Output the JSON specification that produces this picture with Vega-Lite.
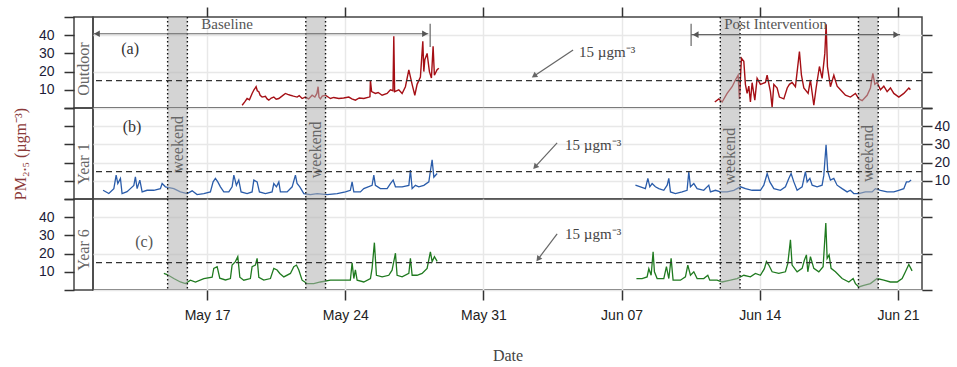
{
  "$schema": "https://vega.github.io/schema/vega-lite/v6.json",
  "background": "white",
  "padding": {"left": 11, "top": 5, "right": 5, "bottom": 5},
  "columns": 2,
  "spacing": 0,
  "bounds": "flush",
  "config": {
    "view": {"stroke": "#444", "strokeWidth": 1.5},
    "axis": {
      "labelFont": "Liberation Sans", "labelFontSize": 14, "labelColor": "#1c1c38", "labelOverlap": false,
      "tickColor": "#333", "tickWidth": 1.5, "tickSize": 10,
      "gridColor": "#e8e8e8", "gridWidth": 1.5, "domain": false,
      "titleFont": "Liberation Serif", "titleFontWeight": "normal"
    },
    "axisQuantitative": {"labelOverlap": false},
    "axisRight": {"labelOverlap": false}
  },
  "datasets": {
    "pm": [
      {"p":"Outdoor","s":"b","t":"2021-05-18 18:36","v":1.5},
      {"p":"Outdoor","s":"b","t":"2021-05-18 22:00","v":3.5},
      {"p":"Outdoor","s":"b","t":"2021-05-19 00:38","v":5.2},
      {"p":"Outdoor","s":"b","t":"2021-05-19 03:30","v":4.5},
      {"p":"Outdoor","s":"b","t":"2021-05-19 06:43","v":8},
      {"p":"Outdoor","s":"b","t":"2021-05-19 09:00","v":10},
      {"p":"Outdoor","s":"b","t":"2021-05-19 11:35","v":11.7},
      {"p":"Outdoor","s":"b","t":"2021-05-19 13:00","v":9.5},
      {"p":"Outdoor","s":"b","t":"2021-05-19 14:52","v":8.9},
      {"p":"Outdoor","s":"b","t":"2021-05-19 16:30","v":7},
      {"p":"Outdoor","s":"b","t":"2021-05-19 18:53","v":6},
      {"p":"Outdoor","s":"b","t":"2021-05-19 22:53","v":6.4},
      {"p":"Outdoor","s":"b","t":"2021-05-20 01:00","v":5},
      {"p":"Outdoor","s":"b","t":"2021-05-20 03:01","v":4.3},
      {"p":"Outdoor","s":"b","t":"2021-05-20 06:00","v":5.5},
      {"p":"Outdoor","s":"b","t":"2021-05-20 09:06","v":6},
      {"p":"Outdoor","s":"b","t":"2021-05-20 12:00","v":4.8},
      {"p":"Outdoor","s":"b","t":"2021-05-20 15:11","v":5.2},
      {"p":"Outdoor","s":"b","t":"2021-05-20 19:00","v":6.5},
      {"p":"Outdoor","s":"b","t":"2021-05-20 23:12","v":8},
      {"p":"Outdoor","s":"b","t":"2021-05-21 02:00","v":7.5},
      {"p":"Outdoor","s":"b","t":"2021-05-21 05:17","v":7},
      {"p":"Outdoor","s":"b","t":"2021-05-21 09:00","v":6.5},
      {"p":"Outdoor","s":"b","t":"2021-05-21 13:26","v":6},
      {"p":"Outdoor","s":"b","t":"2021-05-21 16:00","v":6.8},
      {"p":"Outdoor","s":"b","t":"2021-05-21 19:31","v":5.2},
      {"p":"Outdoor","s":"b","t":"2021-05-21 23:32","v":6},
      {"p":"Outdoor","s":"b","t":"2021-05-22 03:30","v":5},
      {"p":"Outdoor","s":"b","t":"2021-05-22 07:40","v":7},
      {"p":"Outdoor","s":"b","t":"2021-05-22 11:00","v":6},
      {"p":"Outdoor","s":"b","t":"2021-05-22 13:30","v":8},
      {"p":"Outdoor","s":"b","t":"2021-05-22 14:58","v":11.7},
      {"p":"Outdoor","s":"b","t":"2021-05-22 16:00","v":6},
      {"p":"Outdoor","s":"b","t":"2021-05-22 17:46","v":5},
      {"p":"Outdoor","s":"b","t":"2021-05-22 20:00","v":6.5},
      {"p":"Outdoor","s":"b","t":"2021-05-22 23:50","v":7},
      {"p":"Outdoor","s":"b","t":"2021-05-23 05:55","v":5.2},
      {"p":"Outdoor","s":"b","t":"2021-05-23 10:00","v":5.8},
      {"p":"Outdoor","s":"b","t":"2021-05-23 16:08","v":5.2},
      {"p":"Outdoor","s":"b","t":"2021-05-23 22:00","v":5.5},
      {"p":"Outdoor","s":"b","t":"2021-05-24 04:18","v":6},
      {"p":"Outdoor","s":"b","t":"2021-05-24 08:00","v":5},
      {"p":"Outdoor","s":"b","t":"2021-05-24 12:19","v":4.3},
      {"p":"Outdoor","s":"b","t":"2021-05-24 17:00","v":5.5},
      {"p":"Outdoor","s":"b","t":"2021-05-24 22:32","v":5.2},
      {"p":"Outdoor","s":"b","t":"2021-05-25 04:37","v":6},
      {"p":"Outdoor","s":"b","t":"2021-05-25 06:00","v":6.2},
      {"p":"Outdoor","s":"b","t":"2021-05-25 06:34","v":15.4},
      {"p":"Outdoor","s":"b","t":"2021-05-25 08:00","v":9},
      {"p":"Outdoor","s":"b","t":"2021-05-25 12:39","v":8},
      {"p":"Outdoor","s":"b","t":"2021-05-25 16:00","v":8.5},
      {"p":"Outdoor","s":"b","t":"2021-05-25 20:47","v":7},
      {"p":"Outdoor","s":"b","t":"2021-05-26 02:52","v":8},
      {"p":"Outdoor","s":"b","t":"2021-05-26 06:53","v":10},
      {"p":"Outdoor","s":"b","t":"2021-05-26 10:00","v":9.5},
      {"p":"Outdoor","s":"b","t":"2021-05-26 11:00","v":39.4},
      {"p":"Outdoor","s":"b","t":"2021-05-26 12:00","v":9},
      {"p":"Outdoor","s":"b","t":"2021-05-26 17:05","v":10},
      {"p":"Outdoor","s":"b","t":"2021-05-26 21:06","v":8},
      {"p":"Outdoor","s":"b","t":"2021-05-27 01:07","v":11.7},
      {"p":"Outdoor","s":"b","t":"2021-05-27 05:15","v":21},
      {"p":"Outdoor","s":"b","t":"2021-05-27 09:16","v":13},
      {"p":"Outdoor","s":"b","t":"2021-05-27 12:33","v":7},
      {"p":"Outdoor","s":"b","t":"2021-05-27 15:20","v":13},
      {"p":"Outdoor","s":"b","t":"2021-05-27 19:21","v":17},
      {"p":"Outdoor","s":"b","t":"2021-05-27 22:17","v":36.7},
      {"p":"Outdoor","s":"b","t":"2021-05-27 23:30","v":20},
      {"p":"Outdoor","s":"b","t":"2021-05-28 00:43","v":26.5},
      {"p":"Outdoor","s":"b","t":"2021-05-28 03:30","v":30},
      {"p":"Outdoor","s":"b","t":"2021-05-28 06:18","v":20},
      {"p":"Outdoor","s":"b","t":"2021-05-28 08:44","v":16.5},
      {"p":"Outdoor","s":"b","t":"2021-05-28 10:47","v":33.9},
      {"p":"Outdoor","s":"b","t":"2021-05-28 12:22","v":18},
      {"p":"Outdoor","s":"b","t":"2021-05-28 15:39","v":21},
      {"p":"Outdoor","s":"b","t":"2021-05-28 17:43","v":21.9},
      {"p":"Outdoor","s":"p","t":"2021-06-11 17:18","v":3.3},
      {"p":"Outdoor","s":"p","t":"2021-06-11 22:10","v":5},
      {"p":"Outdoor","s":"p","t":"2021-06-12 02:13","v":3.3},
      {"p":"Outdoor","s":"p","t":"2021-06-12 08:18","v":8},
      {"p":"Outdoor","s":"p","t":"2021-06-12 14:22","v":11.7},
      {"p":"Outdoor","s":"p","t":"2021-06-12 18:23","v":15.4},
      {"p":"Outdoor","s":"p","t":"2021-06-12 21:40","v":18},
      {"p":"Outdoor","s":"p","t":"2021-06-12 23:15","v":5},
      {"p":"Outdoor","s":"p","t":"2021-06-13 01:40","v":27.4},
      {"p":"Outdoor","s":"p","t":"2021-06-13 04:35","v":25.7},
      {"p":"Outdoor","s":"p","t":"2021-06-13 06:32","v":13},
      {"p":"Outdoor","s":"p","t":"2021-06-13 08:36","v":8},
      {"p":"Outdoor","s":"p","t":"2021-06-13 10:40","v":12},
      {"p":"Outdoor","s":"p","t":"2021-06-13 12:37","v":3.3},
      {"p":"Outdoor","s":"p","t":"2021-06-13 14:41","v":13.9},
      {"p":"Outdoor","s":"p","t":"2021-06-13 17:58","v":4.3},
      {"p":"Outdoor","s":"p","t":"2021-06-13 20:46","v":16.3},
      {"p":"Outdoor","s":"p","t":"2021-06-14 00:47","v":13},
      {"p":"Outdoor","s":"p","t":"2021-06-14 06:52","v":14},
      {"p":"Outdoor","s":"p","t":"2021-06-14 08:56","v":18},
      {"p":"Outdoor","s":"p","t":"2021-06-14 12:57","v":9},
      {"p":"Outdoor","s":"p","t":"2021-06-14 15:01","v":0.5},
      {"p":"Outdoor","s":"p","t":"2021-06-14 17:05","v":13},
      {"p":"Outdoor","s":"p","t":"2021-06-14 21:06","v":11},
      {"p":"Outdoor","s":"p","t":"2021-06-14 23:54","v":6},
      {"p":"Outdoor","s":"p","t":"2021-06-15 05:15","v":5},
      {"p":"Outdoor","s":"p","t":"2021-06-15 09:22","v":11},
      {"p":"Outdoor","s":"p","t":"2021-06-15 12:03","v":13},
      {"p":"Outdoor","s":"p","t":"2021-06-15 15:20","v":14},
      {"p":"Outdoor","s":"p","t":"2021-06-15 19:21","v":11.7},
      {"p":"Outdoor","s":"p","t":"2021-06-16 00:13","v":31},
      {"p":"Outdoor","s":"p","t":"2021-06-16 02:39","v":18},
      {"p":"Outdoor","s":"p","t":"2021-06-16 05:34","v":11},
      {"p":"Outdoor","s":"p","t":"2021-06-16 10:48","v":8},
      {"p":"Outdoor","s":"p","t":"2021-06-16 13:35","v":15.4},
      {"p":"Outdoor","s":"p","t":"2021-06-16 17:43","v":1.5},
      {"p":"Outdoor","s":"p","t":"2021-06-16 20:31","v":11},
      {"p":"Outdoor","s":"p","t":"2021-06-17 00:32","v":22.8},
      {"p":"Outdoor","s":"p","t":"2021-06-17 03:49","v":16.3},
      {"p":"Outdoor","s":"p","t":"2021-06-17 07:06","v":30},
      {"p":"Outdoor","s":"p","t":"2021-06-17 08:41","v":46},
      {"p":"Outdoor","s":"p","t":"2021-06-17 10:16","v":22.8},
      {"p":"Outdoor","s":"p","t":"2021-06-17 13:55","v":11.7},
      {"p":"Outdoor","s":"p","t":"2021-06-17 18:03","v":18},
      {"p":"Outdoor","s":"p","t":"2021-06-17 22:04","v":12},
      {"p":"Outdoor","s":"p","t":"2021-06-18 02:05","v":10},
      {"p":"Outdoor","s":"p","t":"2021-06-18 08:10","v":7},
      {"p":"Outdoor","s":"p","t":"2021-06-18 14:14","v":6},
      {"p":"Outdoor","s":"p","t":"2021-06-18 20:19","v":8},
      {"p":"Outdoor","s":"p","t":"2021-06-19 00:27","v":5},
      {"p":"Outdoor","s":"p","t":"2021-06-19 04:28","v":4},
      {"p":"Outdoor","s":"p","t":"2021-06-19 10:32","v":7},
      {"p":"Outdoor","s":"p","t":"2021-06-19 14:33","v":11},
      {"p":"Outdoor","s":"p","t":"2021-06-19 17:28","v":19},
      {"p":"Outdoor","s":"p","t":"2021-06-19 19:54","v":13},
      {"p":"Outdoor","s":"p","t":"2021-06-19 22:41","v":14},
      {"p":"Outdoor","s":"p","t":"2021-06-20 02:42","v":10},
      {"p":"Outdoor","s":"p","t":"2021-06-20 06:50","v":12},
      {"p":"Outdoor","s":"p","t":"2021-06-20 10:51","v":9},
      {"p":"Outdoor","s":"p","t":"2021-06-20 14:52","v":11},
      {"p":"Outdoor","s":"p","t":"2021-06-20 18:59","v":8},
      {"p":"Outdoor","s":"p","t":"2021-06-21 01:04","v":6},
      {"p":"Outdoor","s":"p","t":"2021-06-21 07:09","v":8},
      {"p":"Outdoor","s":"p","t":"2021-06-21 13:14","v":11},
      {"p":"Outdoor","s":"p","t":"2021-06-21 15:10","v":10},
      {"p":"Year 1","s":"b","t":"2021-05-11 17:30","v":4.8},
      {"p":"Year 1","s":"b","t":"2021-05-12 00:30","v":3},
      {"p":"Year 1","s":"b","t":"2021-05-12 06:36","v":5.7},
      {"p":"Year 1","s":"b","t":"2021-05-12 09:24","v":13.1},
      {"p":"Year 1","s":"b","t":"2021-05-12 11:24","v":8.5},
      {"p":"Year 1","s":"b","t":"2021-05-12 14:36","v":11.3},
      {"p":"Year 1","s":"b","t":"2021-05-12 16:36","v":3},
      {"p":"Year 1","s":"b","t":"2021-05-12 22:42","v":4},
      {"p":"Year 1","s":"b","t":"2021-05-13 02:42","v":5.7},
      {"p":"Year 1","s":"b","t":"2021-05-13 06:54","v":7.5},
      {"p":"Year 1","s":"b","t":"2021-05-13 08:48","v":12.2},
      {"p":"Year 1","s":"b","t":"2021-05-13 10:54","v":5.7},
      {"p":"Year 1","s":"b","t":"2021-05-13 14:12","v":10.4},
      {"p":"Year 1","s":"b","t":"2021-05-13 17:00","v":3.9},
      {"p":"Year 1","s":"b","t":"2021-05-13 23:00","v":4.8},
      {"p":"Year 1","s":"b","t":"2021-05-14 07:12","v":4.8},
      {"p":"Year 1","s":"b","t":"2021-05-14 15:12","v":5.7},
      {"p":"Year 1","s":"b","t":"2021-05-14 17:18","v":8.5},
      {"p":"Year 1","s":"b","t":"2021-05-14 21:18","v":6.7},
      {"p":"Year 1","s":"b","t":"2021-05-15 07:30","v":5.7},
      {"p":"Year 1","s":"b","t":"2021-05-15 15:30","v":3.9},
      {"p":"Year 1","s":"b","t":"2021-05-15 23:42","v":3},
      {"p":"Year 1","s":"b","t":"2021-05-16 05:48","v":4.5},
      {"p":"Year 1","s":"b","t":"2021-05-16 11:48","v":2.4},
      {"p":"Year 1","s":"b","t":"2021-05-16 20:00","v":3},
      {"p":"Year 1","s":"b","t":"2021-05-17 04:00","v":3.9},
      {"p":"Year 1","s":"b","t":"2021-05-17 07:18","v":9.4},
      {"p":"Year 1","s":"b","t":"2021-05-17 10:06","v":11.3},
      {"p":"Year 1","s":"b","t":"2021-05-17 13:00","v":9.4},
      {"p":"Year 1","s":"b","t":"2021-05-17 16:12","v":6.7},
      {"p":"Year 1","s":"b","t":"2021-05-17 20:18","v":3.9},
      {"p":"Year 1","s":"b","t":"2021-05-18 02:24","v":3.9},
      {"p":"Year 1","s":"b","t":"2021-05-18 06:24","v":6.7},
      {"p":"Year 1","s":"b","t":"2021-05-18 08:30","v":13.1},
      {"p":"Year 1","s":"b","t":"2021-05-18 11:36","v":7.5},
      {"p":"Year 1","s":"b","t":"2021-05-18 14:30","v":10.4},
      {"p":"Year 1","s":"b","t":"2021-05-18 17:18","v":3.9},
      {"p":"Year 1","s":"b","t":"2021-05-19 00:36","v":3},
      {"p":"Year 1","s":"b","t":"2021-05-19 06:42","v":3.9},
      {"p":"Year 1","s":"b","t":"2021-05-19 08:48","v":10.4},
      {"p":"Year 1","s":"b","t":"2021-05-19 12:48","v":9.4},
      {"p":"Year 1","s":"b","t":"2021-05-19 15:36","v":3.9},
      {"p":"Year 1","s":"b","t":"2021-05-19 22:54","v":3},
      {"p":"Year 1","s":"b","t":"2021-05-20 07:00","v":3.9},
      {"p":"Year 1","s":"b","t":"2021-05-20 09:06","v":8.5},
      {"p":"Year 1","s":"b","t":"2021-05-20 12:18","v":6.7},
      {"p":"Year 1","s":"b","t":"2021-05-20 15:12","v":9.4},
      {"p":"Year 1","s":"b","t":"2021-05-20 17:06","v":3.9},
      {"p":"Year 1","s":"b","t":"2021-05-21 01:18","v":3.9},
      {"p":"Year 1","s":"b","t":"2021-05-21 07:24","v":6.7},
      {"p":"Year 1","s":"b","t":"2021-05-21 11:24","v":13.1},
      {"p":"Year 1","s":"b","t":"2021-05-21 13:24","v":8.5},
      {"p":"Year 1","s":"b","t":"2021-05-21 16:42","v":6.7},
      {"p":"Year 1","s":"b","t":"2021-05-21 21:36","v":3},
      {"p":"Year 1","s":"b","t":"2021-05-22 05:36","v":2.4},
      {"p":"Year 1","s":"b","t":"2021-05-22 13:48","v":3},
      {"p":"Year 1","s":"b","t":"2021-05-23 01:54","v":2.4},
      {"p":"Year 1","s":"b","t":"2021-05-23 14:06","v":3},
      {"p":"Year 1","s":"b","t":"2021-05-24 00:12","v":3.9},
      {"p":"Year 1","s":"b","t":"2021-05-24 06:12","v":4.8},
      {"p":"Year 1","s":"b","t":"2021-05-24 08:18","v":9.4},
      {"p":"Year 1","s":"b","t":"2021-05-24 10:24","v":3.9},
      {"p":"Year 1","s":"b","t":"2021-05-24 18:24","v":3.9},
      {"p":"Year 1","s":"b","t":"2021-05-24 22:30","v":5.7},
      {"p":"Year 1","s":"b","t":"2021-05-25 08:36","v":7.5},
      {"p":"Year 1","s":"b","t":"2021-05-25 10:42","v":13.1},
      {"p":"Year 1","s":"b","t":"2021-05-25 12:36","v":7.5},
      {"p":"Year 1","s":"b","t":"2021-05-25 18:42","v":5.7},
      {"p":"Year 1","s":"b","t":"2021-05-26 02:54","v":5.7},
      {"p":"Year 1","s":"b","t":"2021-05-26 06:54","v":8.5},
      {"p":"Year 1","s":"b","t":"2021-05-26 10:12","v":10.4},
      {"p":"Year 1","s":"b","t":"2021-05-26 13:00","v":6.7},
      {"p":"Year 1","s":"b","t":"2021-05-26 21:06","v":6.7},
      {"p":"Year 1","s":"b","t":"2021-05-27 05:18","v":7.5},
      {"p":"Year 1","s":"b","t":"2021-05-27 07:12","v":15.9},
      {"p":"Year 1","s":"b","t":"2021-05-27 09:18","v":5.7},
      {"p":"Year 1","s":"b","t":"2021-05-27 13:18","v":7.5},
      {"p":"Year 1","s":"b","t":"2021-05-27 17:24","v":6.7},
      {"p":"Year 1","s":"b","t":"2021-05-27 23:30","v":7.5},
      {"p":"Year 1","s":"b","t":"2021-05-28 05:36","v":9.4},
      {"p":"Year 1","s":"b","t":"2021-05-28 07:30","v":15.4},
      {"p":"Year 1","s":"b","t":"2021-05-28 09:36","v":21.5},
      {"p":"Year 1","s":"b","t":"2021-05-28 11:42","v":12},
      {"p":"Year 1","s":"b","t":"2021-05-28 15:42","v":14},
      {"p":"Year 1","s":"p","t":"2021-06-07 16:48","v":7.6},
      {"p":"Year 1","s":"p","t":"2021-06-07 22:54","v":6.7},
      {"p":"Year 1","s":"p","t":"2021-06-08 04:54","v":5.7},
      {"p":"Year 1","s":"p","t":"2021-06-08 07:54","v":11.3},
      {"p":"Year 1","s":"p","t":"2021-06-08 10:18","v":6.7},
      {"p":"Year 1","s":"p","t":"2021-06-08 13:06","v":8.5},
      {"p":"Year 1","s":"p","t":"2021-06-08 17:06","v":6.7},
      {"p":"Year 1","s":"p","t":"2021-06-08 21:12","v":5.7},
      {"p":"Year 1","s":"p","t":"2021-06-09 03:18","v":4.8},
      {"p":"Year 1","s":"p","t":"2021-06-09 07:24","v":7.6},
      {"p":"Year 1","s":"p","t":"2021-06-09 09:24","v":11.3},
      {"p":"Year 1","s":"p","t":"2021-06-09 11:24","v":3.9},
      {"p":"Year 1","s":"p","t":"2021-06-09 17:24","v":3},
      {"p":"Year 1","s":"p","t":"2021-06-10 01:36","v":3.9},
      {"p":"Year 1","s":"p","t":"2021-06-10 07:36","v":4.8},
      {"p":"Year 1","s":"p","t":"2021-06-10 09:42","v":15},
      {"p":"Year 1","s":"p","t":"2021-06-10 11:42","v":6.7},
      {"p":"Year 1","s":"p","t":"2021-06-10 15:48","v":8.5},
      {"p":"Year 1","s":"p","t":"2021-06-10 19:48","v":5.7},
      {"p":"Year 1","s":"p","t":"2021-06-11 03:54","v":4.8},
      {"p":"Year 1","s":"p","t":"2021-06-11 10:00","v":7.6},
      {"p":"Year 1","s":"p","t":"2021-06-11 12:00","v":3.9},
      {"p":"Year 1","s":"p","t":"2021-06-11 18:06","v":4.8},
      {"p":"Year 1","s":"p","t":"2021-06-12 00:12","v":3.9},
      {"p":"Year 1","s":"p","t":"2021-06-12 08:18","v":3.9},
      {"p":"Year 1","s":"p","t":"2021-06-12 16:24","v":4.8},
      {"p":"Year 1","s":"p","t":"2021-06-13 00:30","v":6.7},
      {"p":"Year 1","s":"p","t":"2021-06-13 06:36","v":5.7},
      {"p":"Year 1","s":"p","t":"2021-06-13 14:42","v":4.8},
      {"p":"Year 1","s":"p","t":"2021-06-14 00:48","v":4.8},
      {"p":"Year 1","s":"p","t":"2021-06-14 04:54","v":7.6},
      {"p":"Year 1","s":"p","t":"2021-06-14 09:00","v":14},
      {"p":"Year 1","s":"p","t":"2021-06-14 12:12","v":9.4},
      {"p":"Year 1","s":"p","t":"2021-06-14 17:06","v":5.7},
      {"p":"Year 1","s":"p","t":"2021-06-15 01:06","v":4.8},
      {"p":"Year 1","s":"p","t":"2021-06-15 07:12","v":6.7},
      {"p":"Year 1","s":"p","t":"2021-06-15 11:18","v":11.3},
      {"p":"Year 1","s":"p","t":"2021-06-15 14:06","v":14},
      {"p":"Year 1","s":"p","t":"2021-06-15 17:24","v":9.4},
      {"p":"Year 1","s":"p","t":"2021-06-15 21:24","v":4.8},
      {"p":"Year 1","s":"p","t":"2021-06-16 03:30","v":6.7},
      {"p":"Year 1","s":"p","t":"2021-06-16 07:30","v":15},
      {"p":"Year 1","s":"p","t":"2021-06-16 09:36","v":9.4},
      {"p":"Year 1","s":"p","t":"2021-06-16 12:54","v":11.3},
      {"p":"Year 1","s":"p","t":"2021-06-16 15:42","v":7.6},
      {"p":"Year 1","s":"p","t":"2021-06-16 21:42","v":6.7},
      {"p":"Year 1","s":"p","t":"2021-06-17 03:48","v":7.6},
      {"p":"Year 1","s":"p","t":"2021-06-17 05:54","v":13.1},
      {"p":"Year 1","s":"p","t":"2021-06-17 08:36","v":29.8},
      {"p":"Year 1","s":"p","t":"2021-06-17 10:42","v":15},
      {"p":"Year 1","s":"p","t":"2021-06-17 13:54","v":10.4},
      {"p":"Year 1","s":"p","t":"2021-06-17 18:00","v":11.3},
      {"p":"Year 1","s":"p","t":"2021-06-17 22:00","v":7.6},
      {"p":"Year 1","s":"p","t":"2021-06-18 04:06","v":5.7},
      {"p":"Year 1","s":"p","t":"2021-06-18 10:12","v":3.9},
      {"p":"Year 1","s":"p","t":"2021-06-18 14:12","v":4.8},
      {"p":"Year 1","s":"p","t":"2021-06-18 18:18","v":3},
      {"p":"Year 1","s":"p","t":"2021-06-19 00:24","v":3},
      {"p":"Year 1","s":"p","t":"2021-06-19 08:24","v":3.9},
      {"p":"Year 1","s":"p","t":"2021-06-19 16:36","v":3.9},
      {"p":"Year 1","s":"p","t":"2021-06-19 20:36","v":5.7},
      {"p":"Year 1","s":"p","t":"2021-06-20 02:42","v":4.8},
      {"p":"Year 1","s":"p","t":"2021-06-20 10:48","v":3.9},
      {"p":"Year 1","s":"p","t":"2021-06-20 19:00","v":3.9},
      {"p":"Year 1","s":"p","t":"2021-06-21 01:00","v":4.8},
      {"p":"Year 1","s":"p","t":"2021-06-21 07:06","v":5.7},
      {"p":"Year 1","s":"p","t":"2021-06-21 10:18","v":9.4},
      {"p":"Year 1","s":"p","t":"2021-06-21 13:12","v":9.4},
      {"p":"Year 1","s":"p","t":"2021-06-21 16:00","v":10.4},
      {"p":"Year 6","s":"b","t":"2021-05-14 19:24","v":9.1},
      {"p":"Year 6","s":"b","t":"2021-05-14 23:24","v":8.5},
      {"p":"Year 6","s":"b","t":"2021-05-15 07:30","v":6.3},
      {"p":"Year 6","s":"b","t":"2021-05-15 15:30","v":4.4},
      {"p":"Year 6","s":"b","t":"2021-05-15 21:36","v":3.5},
      {"p":"Year 6","s":"b","t":"2021-05-16 03:42","v":5.4},
      {"p":"Year 6","s":"b","t":"2021-05-16 09:48","v":4.4},
      {"p":"Year 6","s":"b","t":"2021-05-16 20:00","v":6.3},
      {"p":"Year 6","s":"b","t":"2021-05-17 06:06","v":7},
      {"p":"Year 6","s":"b","t":"2021-05-17 08:06","v":11.9},
      {"p":"Year 6","s":"b","t":"2021-05-17 12:12","v":12.8},
      {"p":"Year 6","s":"b","t":"2021-05-17 15:24","v":6.5},
      {"p":"Year 6","s":"b","t":"2021-05-17 22:18","v":5.5},
      {"p":"Year 6","s":"b","t":"2021-05-18 04:18","v":6.3},
      {"p":"Year 6","s":"b","t":"2021-05-18 06:24","v":13.7},
      {"p":"Year 6","s":"b","t":"2021-05-18 10:24","v":15.6},
      {"p":"Year 6","s":"b","t":"2021-05-18 13:18","v":18.3},
      {"p":"Year 6","s":"b","t":"2021-05-18 15:48","v":7},
      {"p":"Year 6","s":"b","t":"2021-05-18 20:36","v":5.4},
      {"p":"Year 6","s":"b","t":"2021-05-19 04:36","v":6.3},
      {"p":"Year 6","s":"b","t":"2021-05-19 06:42","v":12.8},
      {"p":"Year 6","s":"b","t":"2021-05-19 10:42","v":13.7},
      {"p":"Year 6","s":"b","t":"2021-05-19 12:48","v":17.4},
      {"p":"Year 6","s":"b","t":"2021-05-19 14:54","v":7},
      {"p":"Year 6","s":"b","t":"2021-05-19 20:54","v":5.4},
      {"p":"Year 6","s":"b","t":"2021-05-20 05:00","v":6.3},
      {"p":"Year 6","s":"b","t":"2021-05-20 09:06","v":11.9},
      {"p":"Year 6","s":"b","t":"2021-05-20 13:06","v":11},
      {"p":"Year 6","s":"b","t":"2021-05-20 16:24","v":9.1},
      {"p":"Year 6","s":"b","t":"2021-05-20 21:18","v":7.2},
      {"p":"Year 6","s":"b","t":"2021-05-21 05:18","v":9.1},
      {"p":"Year 6","s":"b","t":"2021-05-21 09:24","v":12.8},
      {"p":"Year 6","s":"b","t":"2021-05-21 12:36","v":13.7},
      {"p":"Year 6","s":"b","t":"2021-05-21 15:30","v":11},
      {"p":"Year 6","s":"b","t":"2021-05-21 19:30","v":5.4},
      {"p":"Year 6","s":"b","t":"2021-05-22 01:36","v":3.5},
      {"p":"Year 6","s":"b","t":"2021-05-22 09:42","v":3.5},
      {"p":"Year 6","s":"b","t":"2021-05-22 17:48","v":4.4},
      {"p":"Year 6","s":"b","t":"2021-05-23 05:54","v":5.4},
      {"p":"Year 6","s":"b","t":"2021-05-23 18:06","v":5.4},
      {"p":"Year 6","s":"b","t":"2021-05-24 06:12","v":5.4},
      {"p":"Year 6","s":"b","t":"2021-05-24 08:18","v":15},
      {"p":"Year 6","s":"b","t":"2021-05-24 10:24","v":6.3},
      {"p":"Year 6","s":"b","t":"2021-05-24 12:18","v":11},
      {"p":"Year 6","s":"b","t":"2021-05-24 14:24","v":5.4},
      {"p":"Year 6","s":"b","t":"2021-05-24 22:30","v":4.4},
      {"p":"Year 6","s":"b","t":"2021-05-25 06:36","v":6.3},
      {"p":"Year 6","s":"b","t":"2021-05-25 08:36","v":11.9},
      {"p":"Year 6","s":"b","t":"2021-05-25 11:24","v":26},
      {"p":"Year 6","s":"b","t":"2021-05-25 13:54","v":8.1},
      {"p":"Year 6","s":"b","t":"2021-05-25 20:48","v":7.2},
      {"p":"Year 6","s":"b","t":"2021-05-26 04:54","v":8.1},
      {"p":"Year 6","s":"b","t":"2021-05-26 08:54","v":10.9},
      {"p":"Year 6","s":"b","t":"2021-05-26 13:00","v":20.2},
      {"p":"Year 6","s":"b","t":"2021-05-26 15:00","v":8.1},
      {"p":"Year 6","s":"b","t":"2021-05-26 21:06","v":7.2},
      {"p":"Year 6","s":"b","t":"2021-05-27 05:18","v":9.1},
      {"p":"Year 6","s":"b","t":"2021-05-27 07:12","v":17.4},
      {"p":"Year 6","s":"b","t":"2021-05-27 09:18","v":8.1},
      {"p":"Year 6","s":"b","t":"2021-05-27 15:18","v":8.1},
      {"p":"Year 6","s":"b","t":"2021-05-27 21:24","v":9.1},
      {"p":"Year 6","s":"b","t":"2021-05-28 03:30","v":11.9},
      {"p":"Year 6","s":"b","t":"2021-05-28 07:30","v":21},
      {"p":"Year 6","s":"b","t":"2021-05-28 09:36","v":15.6},
      {"p":"Year 6","s":"b","t":"2021-05-28 12:24","v":18.3},
      {"p":"Year 6","s":"b","t":"2021-05-28 15:42","v":15.7},
      {"p":"Year 6","s":"p","t":"2021-06-07 18:00","v":6.3},
      {"p":"Year 6","s":"p","t":"2021-06-08 00:54","v":6.3},
      {"p":"Year 6","s":"p","t":"2021-06-08 07:00","v":7.2},
      {"p":"Year 6","s":"p","t":"2021-06-08 09:06","v":11.7},
      {"p":"Year 6","s":"p","t":"2021-06-08 11:54","v":8.1},
      {"p":"Year 6","s":"p","t":"2021-06-08 14:18","v":21},
      {"p":"Year 6","s":"p","t":"2021-06-08 15:54","v":10},
      {"p":"Year 6","s":"p","t":"2021-06-08 19:12","v":6.3},
      {"p":"Year 6","s":"p","t":"2021-06-09 03:18","v":6.3},
      {"p":"Year 6","s":"p","t":"2021-06-09 06:30","v":12.8},
      {"p":"Year 6","s":"p","t":"2021-06-09 09:24","v":6.3},
      {"p":"Year 6","s":"p","t":"2021-06-09 12:12","v":17.4},
      {"p":"Year 6","s":"p","t":"2021-06-09 14:36","v":5.4},
      {"p":"Year 6","s":"p","t":"2021-06-09 23:30","v":5.4},
      {"p":"Year 6","s":"p","t":"2021-06-10 05:36","v":7.2},
      {"p":"Year 6","s":"p","t":"2021-06-10 08:30","v":13.7},
      {"p":"Year 6","s":"p","t":"2021-06-10 11:42","v":8.1},
      {"p":"Year 6","s":"p","t":"2021-06-10 15:48","v":10},
      {"p":"Year 6","s":"p","t":"2021-06-10 19:48","v":6.3},
      {"p":"Year 6","s":"p","t":"2021-06-11 03:54","v":6.3},
      {"p":"Year 6","s":"p","t":"2021-06-11 08:48","v":8.1},
      {"p":"Year 6","s":"p","t":"2021-06-11 11:12","v":5.4},
      {"p":"Year 6","s":"p","t":"2021-06-11 20:06","v":5.4},
      {"p":"Year 6","s":"p","t":"2021-06-12 02:12","v":4.4},
      {"p":"Year 6","s":"p","t":"2021-06-12 12:18","v":5.4},
      {"p":"Year 6","s":"p","t":"2021-06-12 20:24","v":6.3},
      {"p":"Year 6","s":"p","t":"2021-06-13 04:36","v":8.1},
      {"p":"Year 6","s":"p","t":"2021-06-13 12:36","v":7.2},
      {"p":"Year 6","s":"p","t":"2021-06-13 18:42","v":9.1},
      {"p":"Year 6","s":"p","t":"2021-06-14 00:48","v":8.1},
      {"p":"Year 6","s":"p","t":"2021-06-14 05:36","v":11.7},
      {"p":"Year 6","s":"p","t":"2021-06-14 08:06","v":15.6},
      {"p":"Year 6","s":"p","t":"2021-06-14 11:00","v":13.7},
      {"p":"Year 6","s":"p","t":"2021-06-14 15:00","v":10},
      {"p":"Year 6","s":"p","t":"2021-06-14 23:06","v":9.1},
      {"p":"Year 6","s":"p","t":"2021-06-15 07:12","v":10},
      {"p":"Year 6","s":"p","t":"2021-06-15 10:06","v":14.6},
      {"p":"Year 6","s":"p","t":"2021-06-15 13:18","v":27.6},
      {"p":"Year 6","s":"p","t":"2021-06-15 15:18","v":13.7},
      {"p":"Year 6","s":"p","t":"2021-06-15 21:24","v":10},
      {"p":"Year 6","s":"p","t":"2021-06-16 03:30","v":11.9},
      {"p":"Year 6","s":"p","t":"2021-06-16 06:18","v":16.5},
      {"p":"Year 6","s":"p","t":"2021-06-16 08:42","v":19.3},
      {"p":"Year 6","s":"p","t":"2021-06-16 10:24","v":10},
      {"p":"Year 6","s":"p","t":"2021-06-16 13:36","v":18.3},
      {"p":"Year 6","s":"p","t":"2021-06-16 17:42","v":11.9},
      {"p":"Year 6","s":"p","t":"2021-06-16 23:48","v":10},
      {"p":"Year 6","s":"p","t":"2021-06-17 05:00","v":12.8},
      {"p":"Year 6","s":"p","t":"2021-06-17 08:18","v":36.8},
      {"p":"Year 6","s":"p","t":"2021-06-17 09:54","v":17.4},
      {"p":"Year 6","s":"p","t":"2021-06-17 12:18","v":19.3},
      {"p":"Year 6","s":"p","t":"2021-06-17 14:42","v":11.9},
      {"p":"Year 6","s":"p","t":"2021-06-17 20:00","v":10},
      {"p":"Year 6","s":"p","t":"2021-06-18 04:06","v":6.3},
      {"p":"Year 6","s":"p","t":"2021-06-18 12:18","v":4.4},
      {"p":"Year 6","s":"p","t":"2021-06-18 17:30","v":6.3},
      {"p":"Year 6","s":"p","t":"2021-06-18 20:18","v":3.5},
      {"p":"Year 6","s":"p","t":"2021-06-19 00:24","v":1.7},
      {"p":"Year 6","s":"p","t":"2021-06-19 06:30","v":2.6},
      {"p":"Year 6","s":"p","t":"2021-06-19 14:30","v":3.5},
      {"p":"Year 6","s":"p","t":"2021-06-19 22:42","v":6.3},
      {"p":"Year 6","s":"p","t":"2021-06-20 06:48","v":5.4},
      {"p":"Year 6","s":"p","t":"2021-06-20 14:48","v":4.4},
      {"p":"Year 6","s":"p","t":"2021-06-20 23:00","v":4.4},
      {"p":"Year 6","s":"p","t":"2021-06-21 05:06","v":6.3},
      {"p":"Year 6","s":"p","t":"2021-06-21 09:06","v":10},
      {"p":"Year 6","s":"p","t":"2021-06-21 13:12","v":14},
      {"p":"Year 6","s":"p","t":"2021-06-21 17:12","v":10.5}
    ],
    "wk": [
      {"a":"2021-05-15 00:00","b":"2021-05-16 00:00","m":"2021-05-15 12:00","tv":30,"label":"weekend"},
      {"a":"2021-05-22 00:00","b":"2021-05-23 00:00","m":"2021-05-22 12:00","tv":27,"label":"weekend"},
      {"a":"2021-06-12 00:00","b":"2021-06-13 00:00","m":"2021-06-12 12:00","tv":23.5,"label":"weekend"},
      {"a":"2021-06-19 00:00","b":"2021-06-20 00:00","m":"2021-06-19 12:00","tv":25,"label":"weekend"}
    ],
    "strips": [
      {"p":"Outdoor","v":21.4},
      {"p":"Year 1","v":19.2},
      {"p":"Year 6","v":22}
    ],
    "arrows": [
      {"p":"Outdoor","t":"2021-05-11 05:15","t2":"2021-05-28 05:00","v":40.8,"v2":40.8},
      {"p":"Outdoor","t":"2021-05-28 07:12","t2":"2021-05-28 07:12","v":46.3,"v2":33.5},
      {"p":"Outdoor","t":"2021-06-10 12:30","t2":"2021-06-10 12:30","v":46.3,"v2":34},
      {"p":"Outdoor","t":"2021-06-10 12:30","t2":"2021-06-21 02:36","v":40.3,"v2":40.3},
      {"p":"Outdoor","t":"2021-06-04 13:00","t2":"2021-06-02 13:36","v":31.9,"v2":17.6},
      {"p":"Year 1","t":"2021-06-03 17:36","t2":"2021-06-02 14:48","v":30.8,"v2":17.6},
      {"p":"Year 6","t":"2021-06-03 17:36","t2":"2021-06-02 18:30","v":30.8,"v2":17}
    ],
    "lheads": [
      {"p":"Outdoor","t":"2021-05-11 10:00","v":40.8},
      {"p":"Outdoor","t":"2021-06-10 18:00","v":40.3}
    ],
    "rheads": [
      {"p":"Outdoor","t":"2021-05-28 01:00","v":40.8},
      {"p":"Outdoor","t":"2021-06-20 22:00","v":40.3}
    ],
    "pheads": [
      {"p":"Outdoor","t":"2021-06-02 13:36","v":17.6},
      {"p":"Year 1","t":"2021-06-02 14:48","v":17.6},
      {"p":"Year 6","t":"2021-06-02 18:30","v":17}
    ],
    "notes": [
      {"p":"Outdoor","k":"tag","t":"2021-05-13 02:24","v":32.4,"txt":"(a)"},
      {"p":"Year 1","k":"tag","t":"2021-05-13 04:48","v":39.6,"txt":"(b)"},
      {"p":"Year 6","k":"tag","t":"2021-05-13 19:24","v":26.4,"txt":"(c)"},
      {"p":"Outdoor","k":"thr","t":"2021-06-04 20:18","v":30.8,"txt":"15 µgm⁻³"},
      {"p":"Year 1","k":"thr","t":"2021-06-04 03:18","v":29.7,"txt":"15 µgm⁻³"},
      {"p":"Year 6","k":"thr","t":"2021-06-04 03:18","v":30.8,"txt":"15 µgm⁻³"},
      {"p":"Outdoor","k":"period","t":"2021-05-18 00:18","v":46,"txt":"Baseline"},
      {"p":"Outdoor","k":"period","t":"2021-06-14 19:18","v":46,"txt":"Post Intervention"}
    ]
  },
  "concat": [
    {
      "width": 19, "height": 91,
      "data": {"name": "strips"},
      "transform": [{"filter": "datum.p == 'Outdoor'"}],
      "mark": {"type": "text", "angle": 270, "font": "Liberation Serif", "fontSize": 16, "color": "#666", "align": "center", "baseline": "middle"},
      "encoding": {
        "x": {"datum": 0.5, "type": "quantitative", "scale": {"domain": [0, 1]}, "axis": null},
        "y": {"field": "v", "type": "quantitative", "scale": {"domain": [0, 50], "nice": false},
              "axis": {"orient": "left", "values": [0, 10, 20, 30, 40, 50], "labelOverlap": false, "labelExpr": "datum.value == 0 || datum.value == 50 ? '' : datum.label", "labelPadding": 10, "grid": false, "title": null}},
        "text": {"field": "p"}
      }
    },
    {
      "width": 829, "height": 91,
      "layer": [
        {
          "data": {"name": "pm"},
          "transform": [{"filter": "datum.p == 'Outdoor'"}],
          "mark": {"type": "line", "color": "#a50f15", "strokeWidth": 1.4},
          "encoding": {
            "x": {"field": "t", "type": "temporal",
                  "scale": {"domain": [{"year": 2021, "month": 5, "date": 11, "hours": 5, "minutes": 15}, {"year": 2021, "month": 6, "date": 22, "hours": 5, "minutes": 15}], "nice": false},
                  "axis": {"orient": "top", "labels": false, "values": [{"year": 2021, "month": 5, "date": 17}, {"year": 2021, "month": 5, "date": 24}, {"year": 2021, "month": 5, "date": 31}, {"year": 2021, "month": 6, "date": 7}, {"year": 2021, "month": 6, "date": 14}, {"year": 2021, "month": 6, "date": 21}], "grid": true, "title": null}},
            "y": {"field": "v", "type": "quantitative", "scale": {"domain": [0, 50], "nice": false},
                  "axis": {"orient": "right", "labels": false, "values": [0, 10, 20, 30, 40, 50], "grid": true, "title": null}},
            "detail": {"field": "s"}
          }
        },
        {"data": {"name": "wk"}, "mark": {"type": "rect", "color": "#b0b0b0", "opacity": 0.55},
         "encoding": {"x": {"field": "a", "type": "temporal"}, "x2": {"field": "b"}}},
        {"data": {"name": "wk"}, "mark": {"type": "rule", "color": "#111", "strokeDash": [1.5, 2.5], "strokeWidth": 1.4},
         "encoding": {"x": {"field": "a", "type": "temporal"}}},
        {"data": {"name": "wk"}, "mark": {"type": "rule", "color": "#111", "strokeDash": [1.5, 2.5], "strokeWidth": 1.4},
         "encoding": {"x": {"field": "b", "type": "temporal"}}},
        {"data": {"values": [{}]}, "mark": {"type": "rule", "color": "#333", "strokeDash": [6, 4], "strokeWidth": 1.3},
         "encoding": {"y": {"datum": 15}}},
        {"data": {"name": "arrows"}, "transform": [{"filter": "datum.p == 'Outdoor'"}],
         "mark": {"type": "rule", "color": "#666", "strokeWidth": 1.2},
         "encoding": {"x": {"field": "t", "type": "temporal"}, "x2": {"field": "t2"}, "y": {"field": "v", "type": "quantitative"}, "y2": {"field": "v2"}}},
        {"data": {"name": "lheads"}, "transform": [{"filter": "datum.p == 'Outdoor'"}],
         "mark": {"type": "point", "shape": "triangle-left", "filled": true, "size": 45, "color": "#555", "opacity": 1},
         "encoding": {"x": {"field": "t", "type": "temporal"}, "y": {"field": "v", "type": "quantitative"}}},
        {"data": {"name": "rheads"}, "transform": [{"filter": "datum.p == 'Outdoor'"}],
         "mark": {"type": "point", "shape": "triangle-right", "filled": true, "size": 45, "color": "#555", "opacity": 1},
         "encoding": {"x": {"field": "t", "type": "temporal"}, "y": {"field": "v", "type": "quantitative"}}},
        {"data": {"name": "pheads"}, "transform": [{"filter": "datum.p == 'Outdoor'"}],
         "mark": {"type": "point", "shape": "triangle-up", "angle": 236, "filled": true, "size": 40, "color": "#666", "opacity": 1},
         "encoding": {"x": {"field": "t", "type": "temporal"}, "y": {"field": "v", "type": "quantitative"}}},
        {"data": {"name": "notes"}, "transform": [{"filter": "datum.p == 'Outdoor' && datum.k == 'tag'"}],
         "mark": {"type": "text", "font": "Liberation Serif", "fontSize": 16, "color": "#333", "align": "center", "baseline": "middle"},
         "encoding": {"x": {"field": "t", "type": "temporal"}, "y": {"field": "v", "type": "quantitative"}, "text": {"field": "txt"}}},
        {"data": {"name": "notes"}, "transform": [{"filter": "datum.p == 'Outdoor' && datum.k == 'thr'"}],
         "mark": {"type": "text", "font": "Liberation Serif", "fontSize": 15, "color": "#444", "align": "left", "baseline": "middle"},
         "encoding": {"x": {"field": "t", "type": "temporal"}, "y": {"field": "v", "type": "quantitative"}, "text": {"field": "txt"}}},
        {"data": {"name": "notes"}, "transform": [{"filter": "datum.p == 'Outdoor' && datum.k == 'period'"}],
         "mark": {"type": "text", "font": "Liberation Serif", "fontSize": 15, "color": "#555", "align": "center", "baseline": "middle"},
         "encoding": {"x": {"field": "t", "type": "temporal"}, "y": {"field": "v", "type": "quantitative"}, "text": {"field": "txt"}}}
      ]
    },
    {
      "width": 19, "height": 91,
      "data": {"name": "strips"},
      "transform": [{"filter": "datum.p == 'Year 1'"}],
      "mark": {"type": "text", "angle": 270, "font": "Liberation Serif", "fontSize": 16, "color": "#666", "align": "center", "baseline": "middle"},
      "encoding": {
        "x": {"datum": 0.5, "type": "quantitative", "scale": {"domain": [0, 1]}, "axis": null},
        "y": {"field": "v", "type": "quantitative", "scale": {"domain": [0, 50], "nice": false},
              "axis": {"orient": "left", "values": [0, 10, 20, 30, 40, 50], "labels": false, "grid": false,
                       "title": "PM₂.₅ (µgm⁻³)", "titleFontSize": 16, "titleColor": "#8b3a3a", "titlePadding": 35}},
        "text": {"field": "p"}
      }
    },
    {
      "width": 829, "height": 91,
      "layer": [
        {
          "data": {"name": "pm"},
          "transform": [{"filter": "datum.p == 'Year 1'"}],
          "mark": {"type": "line", "color": "#2a5caa", "strokeWidth": 1.3},
          "encoding": {
            "x": {"field": "t", "type": "temporal",
                  "scale": {"domain": [{"year": 2021, "month": 5, "date": 11, "hours": 5, "minutes": 15}, {"year": 2021, "month": 6, "date": 22, "hours": 5, "minutes": 15}], "nice": false},
                  "axis": {"orient": "bottom", "labels": false, "ticks": false, "values": [{"year": 2021, "month": 5, "date": 17}, {"year": 2021, "month": 5, "date": 24}, {"year": 2021, "month": 5, "date": 31}, {"year": 2021, "month": 6, "date": 7}, {"year": 2021, "month": 6, "date": 14}, {"year": 2021, "month": 6, "date": 21}], "grid": true, "title": null}},
            "y": {"field": "v", "type": "quantitative", "scale": {"domain": [0, 50], "nice": false},
                  "axis": {"orient": "right", "values": [0, 10, 20, 30, 40, 50], "labelOverlap": false, "labelExpr": "datum.value == 0 || datum.value == 50 ? '' : datum.label", "labelPadding": 2, "grid": true, "title": null}},
            "detail": {"field": "s"}
          }
        },
        {"data": {"name": "wk"}, "mark": {"type": "rect", "color": "#b0b0b0", "opacity": 0.55},
         "encoding": {"x": {"field": "a", "type": "temporal"}, "x2": {"field": "b"}}},
        {"data": {"name": "wk"}, "mark": {"type": "rule", "color": "#111", "strokeDash": [1.5, 2.5], "strokeWidth": 1.4},
         "encoding": {"x": {"field": "a", "type": "temporal"}}},
        {"data": {"name": "wk"}, "mark": {"type": "rule", "color": "#111", "strokeDash": [1.5, 2.5], "strokeWidth": 1.4},
         "encoding": {"x": {"field": "b", "type": "temporal"}}},
        {"data": {"name": "wk"}, "mark": {"type": "text", "angle": 270, "font": "Liberation Serif", "fontSize": 16, "color": "#666", "align": "center", "baseline": "middle"},
         "encoding": {"x": {"field": "m", "type": "temporal"}, "y": {"field": "tv", "type": "quantitative", "axis": {"orient": "right", "values": [0, 10, 20, 30, 40, 50], "labelOverlap": false, "labelExpr": "datum.value == 0 || datum.value == 50 ? '' : datum.label", "labelPadding": 2, "grid": true, "title": null}}, "text": {"field": "label"}}},
        {"data": {"values": [{}]}, "mark": {"type": "rule", "color": "#333", "strokeDash": [6, 4], "strokeWidth": 1.3},
         "encoding": {"y": {"datum": 15, "axis": {"orient": "right", "values": [0, 10, 20, 30, 40, 50], "labelOverlap": false, "labelExpr": "datum.value == 0 || datum.value == 50 ? '' : datum.label", "labelPadding": 2, "grid": true, "title": null}}}},
        {"data": {"name": "arrows"}, "transform": [{"filter": "datum.p == 'Year 1'"}],
         "mark": {"type": "rule", "color": "#666", "strokeWidth": 1.2},
         "encoding": {"x": {"field": "t", "type": "temporal"}, "x2": {"field": "t2"}, "y": {"field": "v", "type": "quantitative", "axis": {"orient": "right", "values": [0, 10, 20, 30, 40, 50], "labelOverlap": false, "labelExpr": "datum.value == 0 || datum.value == 50 ? '' : datum.label", "labelPadding": 2, "grid": true, "title": null}}, "y2": {"field": "v2"}}},
        {"data": {"name": "pheads"}, "transform": [{"filter": "datum.p == 'Year 1'"}],
         "mark": {"type": "point", "shape": "triangle-up", "angle": 222, "filled": true, "size": 40, "color": "#666", "opacity": 1},
         "encoding": {"x": {"field": "t", "type": "temporal"}, "y": {"field": "v", "type": "quantitative", "axis": {"orient": "right", "values": [0, 10, 20, 30, 40, 50], "labelOverlap": false, "labelExpr": "datum.value == 0 || datum.value == 50 ? '' : datum.label", "labelPadding": 2, "grid": true, "title": null}}}},
        {"data": {"name": "notes"}, "transform": [{"filter": "datum.p == 'Year 1' && datum.k == 'tag'"}],
         "mark": {"type": "text", "font": "Liberation Serif", "fontSize": 16, "color": "#333", "align": "center", "baseline": "middle"},
         "encoding": {"x": {"field": "t", "type": "temporal"}, "y": {"field": "v", "type": "quantitative", "axis": {"orient": "right", "values": [0, 10, 20, 30, 40, 50], "labelOverlap": false, "labelExpr": "datum.value == 0 || datum.value == 50 ? '' : datum.label", "labelPadding": 2, "grid": true, "title": null}}, "text": {"field": "txt"}}},
        {"data": {"name": "notes"}, "transform": [{"filter": "datum.p == 'Year 1' && datum.k == 'thr'"}],
         "mark": {"type": "text", "font": "Liberation Serif", "fontSize": 15, "color": "#444", "align": "left", "baseline": "middle"},
         "encoding": {"x": {"field": "t", "type": "temporal"}, "y": {"field": "v", "type": "quantitative", "axis": {"orient": "right", "values": [0, 10, 20, 30, 40, 50], "labelOverlap": false, "labelExpr": "datum.value == 0 || datum.value == 50 ? '' : datum.label", "labelPadding": 2, "grid": true, "title": null}}, "text": {"field": "txt"}}}
      ]
    },
    {
      "width": 19, "height": 91,
      "data": {"name": "strips"},
      "transform": [{"filter": "datum.p == 'Year 6'"}],
      "mark": {"type": "text", "angle": 270, "font": "Liberation Serif", "fontSize": 16, "color": "#666", "align": "center", "baseline": "middle"},
      "encoding": {
        "x": {"datum": 0.5, "type": "quantitative", "scale": {"domain": [0, 1]}, "axis": null},
        "y": {"field": "v", "type": "quantitative", "scale": {"domain": [0, 50], "nice": false},
              "axis": {"orient": "left", "values": [0, 10, 20, 30, 40, 50], "labelOverlap": false, "labelExpr": "datum.value == 0 || datum.value == 50 ? '' : datum.label", "labelPadding": 10, "grid": false, "title": null}},
        "text": {"field": "p"}
      }
    },
    {
      "width": 829, "height": 91,
      "layer": [
        {
          "data": {"name": "pm"},
          "transform": [{"filter": "datum.p == 'Year 6'"}],
          "mark": {"type": "line", "color": "#1f7a1f", "strokeWidth": 1.3},
          "encoding": {
            "x": {"field": "t", "type": "temporal",
                  "scale": {"domain": [{"year": 2021, "month": 5, "date": 11, "hours": 5, "minutes": 15}, {"year": 2021, "month": 6, "date": 22, "hours": 5, "minutes": 15}], "nice": false},
                  "axis": {"orient": "bottom", "format": "%b %d", "labelFont": "Liberation Sans Narrow, Liberation Sans", "labelFontSize": 14, "labelColor": "#222", "labelPadding": 8, "values": [{"year": 2021, "month": 5, "date": 17}, {"year": 2021, "month": 5, "date": 24}, {"year": 2021, "month": 5, "date": 31}, {"year": 2021, "month": 6, "date": 7}, {"year": 2021, "month": 6, "date": 14}, {"year": 2021, "month": 6, "date": 21}], "grid": true,
                           "title": "Date", "titleFontSize": 16, "titleColor": "#444", "titlePadding": 25}},
            "y": {"field": "v", "type": "quantitative", "scale": {"domain": [0, 50], "nice": false},
                  "axis": {"orient": "right", "labels": false, "values": [0, 10, 20, 30, 40, 50], "grid": true, "title": null}},
            "detail": {"field": "s"}
          }
        },
        {"data": {"name": "wk"}, "mark": {"type": "rect", "color": "#b0b0b0", "opacity": 0.55},
         "encoding": {"x": {"field": "a", "type": "temporal"}, "x2": {"field": "b"}}},
        {"data": {"name": "wk"}, "mark": {"type": "rule", "color": "#111", "strokeDash": [1.5, 2.5], "strokeWidth": 1.4},
         "encoding": {"x": {"field": "a", "type": "temporal"}}},
        {"data": {"name": "wk"}, "mark": {"type": "rule", "color": "#111", "strokeDash": [1.5, 2.5], "strokeWidth": 1.4},
         "encoding": {"x": {"field": "b", "type": "temporal"}}},
        {"data": {"values": [{}]}, "mark": {"type": "rule", "color": "#333", "strokeDash": [6, 4], "strokeWidth": 1.3},
         "encoding": {"y": {"datum": 15}}},
        {"data": {"name": "arrows"}, "transform": [{"filter": "datum.p == 'Year 6'"}],
         "mark": {"type": "rule", "color": "#666", "strokeWidth": 1.2},
         "encoding": {"x": {"field": "t", "type": "temporal"}, "x2": {"field": "t2"}, "y": {"field": "v", "type": "quantitative"}, "y2": {"field": "v2"}}},
        {"data": {"name": "pheads"}, "transform": [{"filter": "datum.p == 'Year 6'"}],
         "mark": {"type": "point", "shape": "triangle-up", "angle": 217, "filled": true, "size": 40, "color": "#666", "opacity": 1},
         "encoding": {"x": {"field": "t", "type": "temporal"}, "y": {"field": "v", "type": "quantitative"}}},
        {"data": {"name": "notes"}, "transform": [{"filter": "datum.p == 'Year 6' && datum.k == 'tag'"}],
         "mark": {"type": "text", "font": "Liberation Serif", "fontSize": 16, "color": "#555", "align": "center", "baseline": "middle"},
         "encoding": {"x": {"field": "t", "type": "temporal"}, "y": {"field": "v", "type": "quantitative"}, "text": {"field": "txt"}}},
        {"data": {"name": "notes"}, "transform": [{"filter": "datum.p == 'Year 6' && datum.k == 'thr'"}],
         "mark": {"type": "text", "font": "Liberation Serif", "fontSize": 15, "color": "#444", "align": "left", "baseline": "middle"},
         "encoding": {"x": {"field": "t", "type": "temporal"}, "y": {"field": "v", "type": "quantitative"}, "text": {"field": "txt"}}}
      ]
    }
  ]
}
